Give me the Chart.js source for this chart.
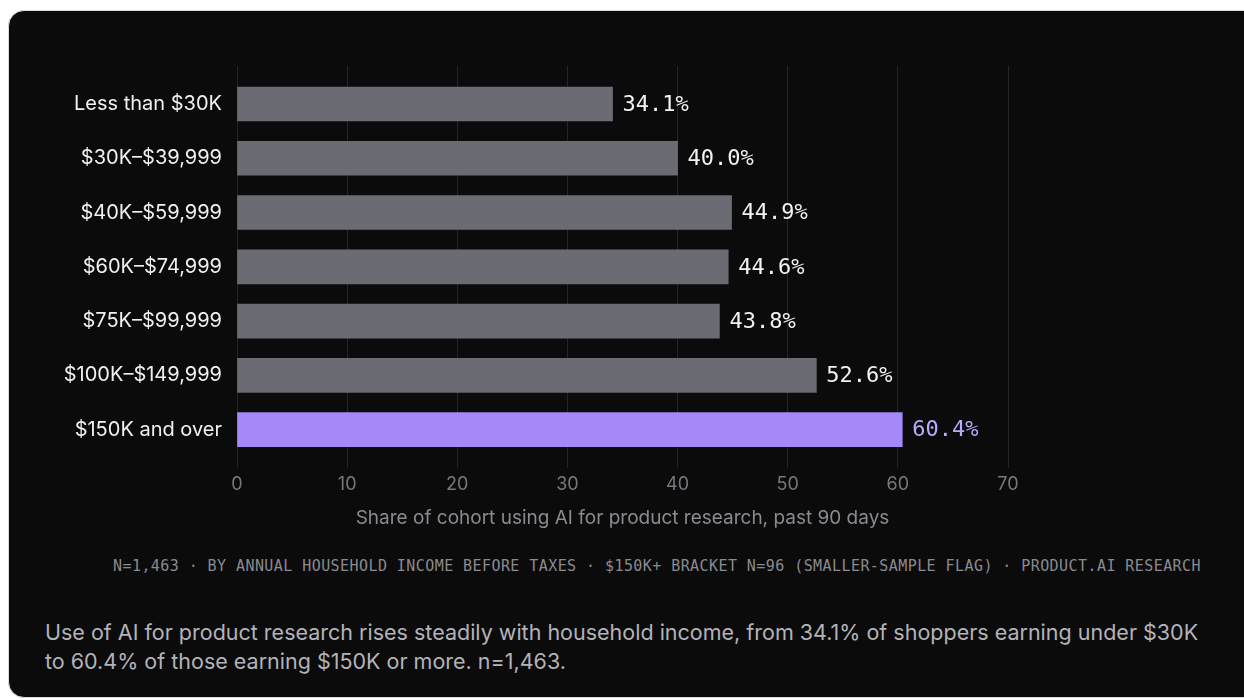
<!DOCTYPE html>
<html>
<head>
<meta charset="utf-8">
<script src="https://cdn.jsdelivr.net/npm/chart.js@4.4.1/dist/chart.umd.min.js"></script>
<style>
  body { margin: 0; background: #fff; width: 1244px; height: 700px; overflow: hidden; font-family: Inter, "Noto Sans", sans-serif; }
  .card { position: absolute; left: 8px; top: 10px; width: 1262px; height: 688px; background: #0b0b0c; border: 1px solid #dcdcdc; border-radius: 16px; box-sizing: border-box; }
  #wrap { position: absolute; left: 8px; top: 10px; width: 1236px; height: 524px; }
  .note { position: absolute; left: 113px; top: 557px; white-space: nowrap; font-family: "DejaVu Sans Mono", monospace; font-size: 15px; letter-spacing: 0.43px; color: #8a8a8f; }
  .caption { position: absolute; left: 45px; top: 618px; width: 1170px; font-size: 21.5px; line-height: 29px; color: #b3b3b8; }
</style>
</head>
<body>
<div class="card"></div>
<div id="wrap"><canvas id="incomeChart"></canvas></div>
<div class="note">N=1,463 · BY ANNUAL HOUSEHOLD INCOME BEFORE TAXES · $150K+ BRACKET N=96 (SMALLER-SAMPLE FLAG) · PRODUCT.AI RESEARCH</div>
<div class="caption">Use of AI for product research rises steadily with household income, from 34.1% of shoppers earning under $30K to 60.4% of those earning $150K or more. n=1,463.</div>
<script>
const cohorts = ['Less than $30K', '$30K–$39,999', '$40K–$59,999', '$60K–$74,999', '$75K–$99,999', '$100K–$149,999', '$150K and over'];
const shares = [34.1, 40.0, 44.9, 44.6, 43.8, 52.6, 60.4];
const xTicks = [0, 10, 20, 30, 40, 50, 60, 70];

const GRAY = '#6b6b74';
const PURPLE = '#a689f9';

// last bracket is highlighted
const barColors = shares.map((_, i) => i === shares.length - 1 ? PURPLE : GRAY);
const labelColors = shares.map((_, i) => i === shares.length - 1 ? '#bcaaff' : '#f2f2f2');

const valueLabels = {
    id: 'valueLabels',
    afterDatasetsDraw(chart) {
        const ctx = chart.ctx;
        const meta = chart.getDatasetMeta(0);
        ctx.save();
        ctx.font = '22px "DejaVu Sans Mono", monospace';
        ctx.textBaseline = 'middle';
        ctx.textAlign = 'left';
        meta.data.forEach((bar, i) => {
            ctx.fillStyle = labelColors[i];
            ctx.fillText(shares[i].toFixed(1) + '%', bar.x + 10, bar.y + 1);
        });
        ctx.restore();
    }
};

new Chart(document.getElementById('incomeChart'), {
    type: 'bar',
    data: {
        datasets: [{
            data: shares.map((v, i) => ({ x: v, y: i })),
            backgroundColor: barColors,
            barThickness: 34,
            borderWidth: 0
        }]
    },
    options: {
        indexAxis: 'y',
        responsive: true,
        maintainAspectRatio: false,
        animation: false,
        layout: { padding: { top: 56, right: 236, bottom: 0, left: 0 } },
        plugins: {
            legend: { display: false },
            tooltip: { enabled: false }
        },
        scales: {
            x: {
                type: 'linear',
                min: 0,
                max: 70,
                afterBuildTicks: (scale) => { scale.ticks = xTicks.map(v => ({ value: v })); },
                grid: { color: '#242428', drawTicks: false, lineWidth: 1 },
                border: { display: false },
                ticks: { color: '#77777d', padding: 6, font: { family: 'Inter', size: 18 } },
                title: {
                    display: true,
                    text: 'Share of cohort using AI for product research, past 90 days',
                    color: '#8a8a90',
                    font: { family: 'Inter', size: 19 },
                    padding: { top: 6, bottom: 4 }
                }
            },
            y: {
                type: 'linear',
                min: -0.7,
                max: 6.7,
                offset: false,
                reverse: true,
                afterBuildTicks: (scale) => { scale.ticks = cohorts.map((_, i) => ({ value: i })); },
                afterFit: (scale) => { scale.width = 229; },
                grid: { display: false, drawTicks: false },
                border: { display: false },
                ticks: {
                    color: '#f0f0f0',
                    padding: 15,
                    font: { family: 'Inter', size: 20 },
                    callback: (v) => cohorts[v]
                }
            }
        }
    },
    plugins: [valueLabels]
});
</script>
</body>
</html>
